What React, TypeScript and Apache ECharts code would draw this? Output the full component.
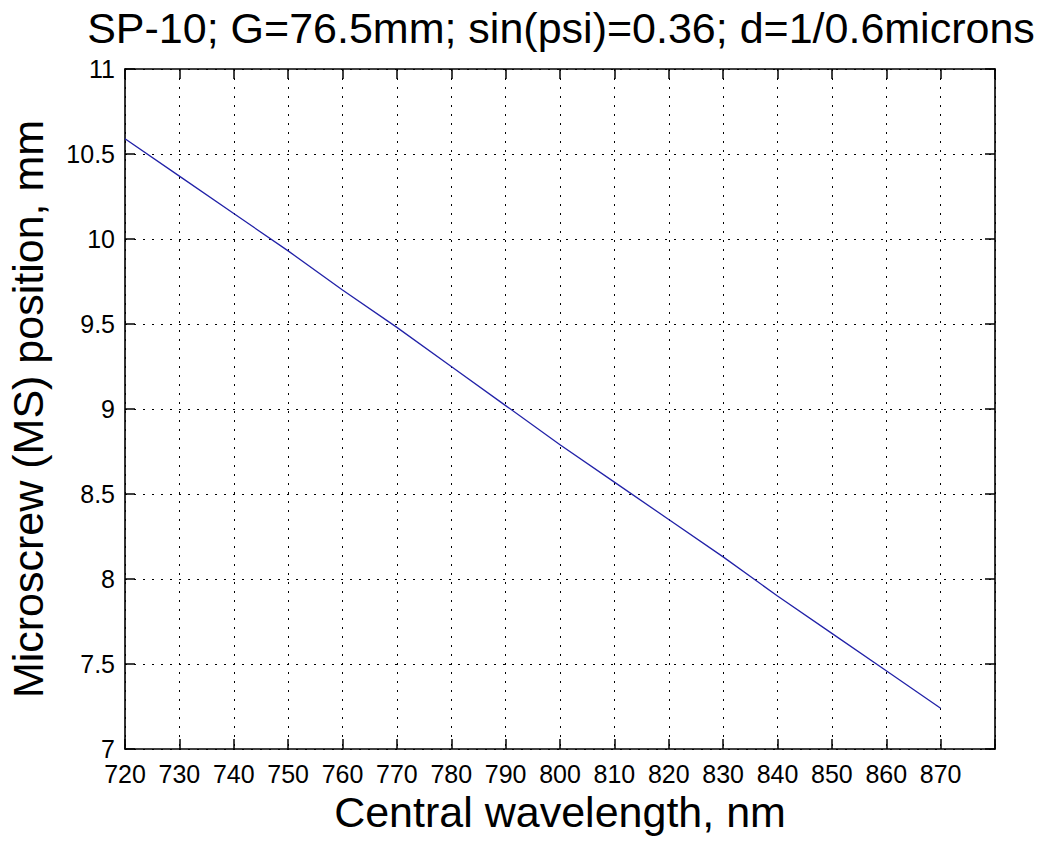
import React, { useEffect, useRef } from "react";
import * as echarts from "echarts";

const titleText = "SP-10; G=76.5mm; sin(psi)=0.36; d=1/0.6microns";
const xName = "Central wavelength, nm";
const yName = "Microscrew (MS) position, mm";
const wavelengths = [720, 730, 740, 750, 760, 770, 780, 790, 800, 810, 820, 830, 840, 850, 860, 870];
const positions = [10.59, 10.37, 10.15, 9.93, 9.70, 9.48, 9.25, 9.02, 8.79, 8.57, 8.35, 8.13, 7.90, 7.68, 7.46, 7.24];
const xMin = 720;
const xMax = 880;
const xStep = 10;
const yMin = 7;
const yMax = 11;
const yStep = 0.5;

const FONT = "'Liberation Sans', Arial, Helvetica, sans-serif";

export default function App() {
  const ref = useRef<HTMLDivElement>(null);
  useEffect(() => {
    document.body.style.margin = "0";
    const chart = echarts.init(ref.current!, null, { renderer: "svg" });
    const gridLine = { show: true, lineStyle: { color: "#000", type: [2, 7] as any, width: 1 } };
    const axisLine = { show: true, onZero: false, lineStyle: { color: "#000", width: 1.6 } };
    const tick = { show: true, inside: true, length: 10, lineStyle: { color: "#000", width: 1.5 } };
    chart.setOption({
      animation: false,
      backgroundColor: "#fff",
      textStyle: { fontFamily: FONT },
      title: {
        text: titleText,
        left: 556,
        top: 1,
        textAlign: "center",
        textStyle: { fontFamily: FONT, fontSize: 43, fontWeight: "normal", color: "#000" },
      },
      grid: {
        left: 125,
        top: 69,
        width: 870,
        height: 680,
        containLabel: false,
        outerBoundsMode: "none",
      },
      xAxis: [
        {
          type: "value",
          min: xMin,
          max: xMax,
          interval: xStep,
          position: "bottom",
          name: xName,
          nameLocation: "middle",
          nameGap: 40,
          nameTextStyle: { fontFamily: FONT, fontSize: 43, color: "#000" },
          axisLine,
          axisTick: tick,
          splitLine: gridLine,
          axisLabel: {
            fontFamily: FONT,
            fontSize: 25,
            color: "#000",
            margin: 12,
            formatter: (v: number) => (v === xMax ? "" : String(v)),
          },
        },
        {
          type: "value",
          min: xMin,
          max: xMax,
          interval: xStep,
          position: "top",
          axisLine,
          axisTick: tick,
          splitLine: { show: false },
          axisLabel: { show: false },
        },
      ],
      yAxis: [
        {
          type: "value",
          min: yMin,
          max: yMax,
          interval: yStep,
          position: "left",
          name: yName,
          nameLocation: "middle",
          nameGap: 76,
          nameTextStyle: { fontFamily: FONT, fontSize: 43, color: "#000" },
          axisLine,
          axisTick: tick,
          splitLine: gridLine,
          axisLabel: { fontFamily: FONT, fontSize: 25, color: "#000", margin: 10 },
        },
        {
          type: "value",
          min: yMin,
          max: yMax,
          interval: yStep,
          position: "right",
          axisLine,
          axisTick: tick,
          splitLine: { show: false },
          axisLabel: { show: false },
        },
      ],
      series: [
        {
          type: "line",
          data: wavelengths.map((w, i) => [w, positions[i]]),
          showSymbol: false,
          lineStyle: { color: "#2222a8", width: 1.3 },
          xAxisIndex: 0,
          yAxisIndex: 0,
        },
      ],
    });
    return () => chart.dispose();
  }, []);
  return <div ref={ref} style={{ width: 1044, height: 845 }} />;
}
